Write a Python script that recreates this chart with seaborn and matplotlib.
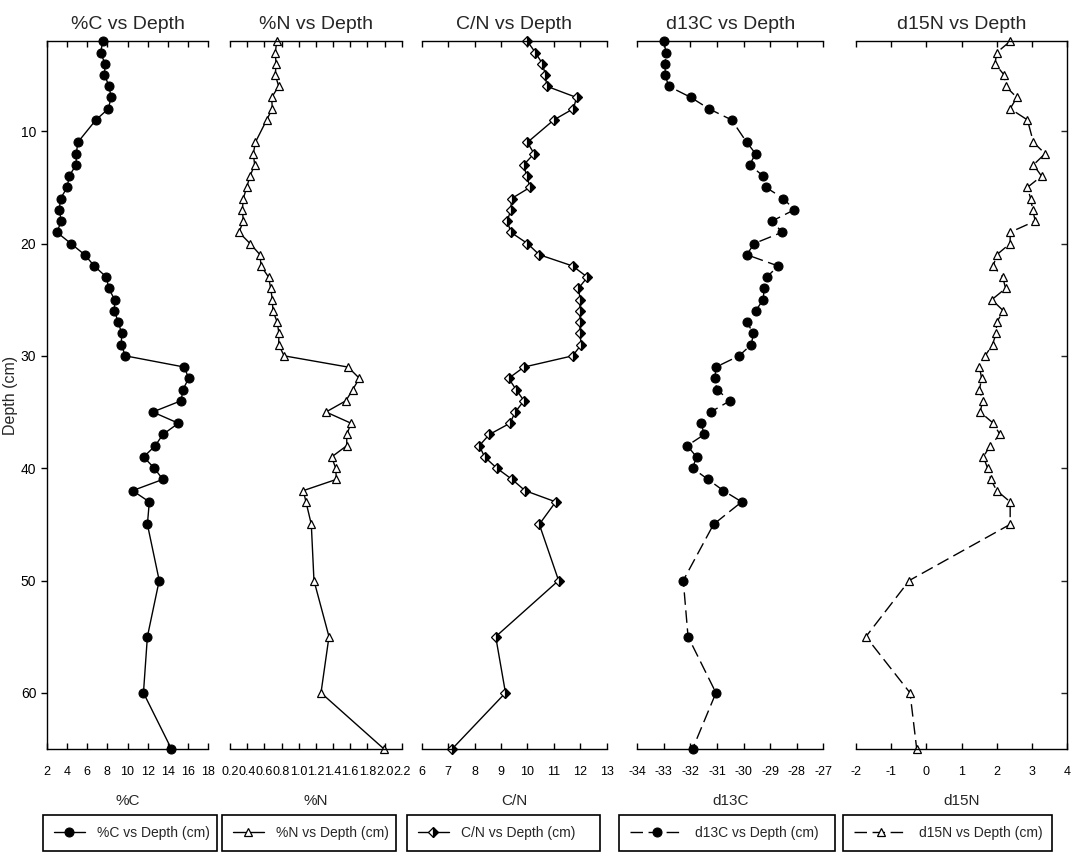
import matplotlib
matplotlib.use("Agg")
import matplotlib.pyplot as plt
import seaborn as sns
import pandas as pd
from matplotlib.ticker import FormatStrFormatter

# ---------------- data ----------------
depth = [2, 3, 4, 5, 6, 7, 8, 9,
         11, 12, 13, 14, 15, 16, 17, 18, 19, 20,
         21, 22, 23, 24, 25, 26, 27, 28, 29, 30,
         31, 32, 33, 34, 35, 36, 37, 38, 39, 40,
         41, 42, 43, 45, 50, 55, 60, 65]

pct_c = [7.56, 7.33, 7.78, 7.72, 8.18, 8.37, 8.11, 6.87,
         5.07, 4.94, 4.91, 4.22, 4.03, 3.37, 3.24, 3.44, 3.01, 4.39,
         5.76, 6.71, 7.92, 8.14, 8.73, 8.70, 9.09, 9.42, 9.39, 9.78,
         15.63, 16.05, 15.50, 15.30, 12.50, 15.04, 13.50, 12.75, 11.60, 12.65,
         13.50, 10.50, 12.16, 11.97, 13.14, 11.97, 11.58, 14.35]

pct_n = [0.744, 0.728, 0.736, 0.728, 0.767, 0.685, 0.693, 0.627,
         0.495, 0.472, 0.487, 0.433, 0.394, 0.355, 0.344, 0.355, 0.305, 0.433,
         0.550, 0.561, 0.650, 0.674, 0.693, 0.700, 0.750, 0.770, 0.767, 0.830,
         1.575, 1.707, 1.630, 1.550, 1.318, 1.610, 1.560, 1.560, 1.384, 1.431,
         1.439, 1.054, 1.085, 1.147, 1.178, 1.353, 1.260, 1.994]

c_n = [10.00, 10.30, 10.57, 10.68, 10.73, 11.86, 11.74, 11.00,
       10.00, 10.25, 9.86, 9.97, 10.10, 9.40, 9.37, 9.24, 9.37, 10.00,
       10.45, 11.71, 12.27, 11.93, 12.00, 11.98, 12.00, 11.98, 12.04, 11.71,
       9.87, 9.29, 9.57, 9.87, 9.54, 9.34, 8.56, 8.18, 8.38, 8.84,
       9.42, 9.91, 11.07, 10.45, 11.18, 8.80, 9.17, 7.15]

d13c = [-33.00, -32.92, -32.95, -32.95, -32.82, -31.98, -31.31, -30.45,
        -29.88, -29.55, -29.77, -29.26, -29.16, -28.50, -28.09, -28.93, -28.55, -29.60,
        -29.88, -28.70, -29.13, -29.23, -29.26, -29.55, -29.88, -29.63, -29.71, -30.17,
        -31.04, -31.08, -31.01, -30.51, -31.24, -31.60, -31.48, -32.12, -31.77, -31.92,
        -31.34, -30.76, -30.07, -31.13, -32.27, -32.09, -31.04, -31.92]

d15n = [2.38, 2.00, 1.95, 2.21, 2.25, 2.57, 2.38, 2.87,
        3.04, 3.37, 3.04, 3.27, 2.87, 2.96, 3.02, 3.09, 2.38, 2.38,
        2.00, 1.90, 2.17, 2.25, 1.86, 2.19, 2.00, 1.98, 1.88, 1.67,
        1.51, 1.57, 1.51, 1.60, 1.53, 1.90, 2.09, 1.81, 1.62, 1.74,
        1.83, 2.00, 2.38, 2.38, -0.48, -1.71, -0.46, -0.27]

names = ["%C", "%N", "C/N", "d13C", "d15N"]
series = [pct_c, pct_n, c_n, d13c, d15n]
xlims = [(2, 18), (0.2, 2.2), (6, 13), (-34, -27), (-2, 4)]
xstep = [2, 0.2, 1, 1, 1]
y_ticks = [10, 20, 30, 40, 50, 60]

# ---------------- style ----------------
sns.set_style("ticks")
plt.rcParams["font.family"] = ["Liberation Sans", "DejaVu Sans"]
plt.rcParams["axes.unicode_minus"] = False

fig = plt.figure(figsize=(10.84, 8.56), dpi=100)
W, H = 1084.0, 856.0
top_px, bot_px = 41.3, 749.0
panel_px = [(46.7, 208.3), (230.0, 401.7), (421.7, 606.7), (637.3, 823.3), (855.7, 1067.3)]
legend_px = [(43, 217), (222, 396), (407, 600), (619, 835), (843, 1052)]

marker_kw = [
    dict(marker="o", markersize=6.5, markerfacecolor="black", markeredgecolor="black"),
    dict(marker="^", markersize=6, markerfacecolor="white", markeredgecolor="black", markeredgewidth=0.9),
    dict(marker="D", markersize=5.5, markerfacecolor="black", markerfacecoloralt="white",
         fillstyle="right", markeredgecolor="black", markeredgewidth=0.9),
    dict(marker="o", markersize=6.5, markerfacecolor="black", markeredgecolor="black"),
    dict(marker="^", markersize=6, markerfacecolor="white", markeredgecolor="black", markeredgewidth=0.9),
]
dashed = [False, False, False, True, True]

for i, (name, vals) in enumerate(zip(names, series)):
    x0, x1 = panel_px[i]
    ax = fig.add_axes([x0 / W, 1 - bot_px / H, (x1 - x0) / W, (bot_px - top_px) / H])
    df = pd.DataFrame({"value": vals, "depth": depth})
    sns.lineplot(data=df, x="value", y="depth", orient="y", sort=False, estimator=None,
                 ax=ax, color="black", linewidth=1.0, clip_on=False,
                 label=f"{name} vs Depth (cm)", legend=False, **marker_kw[i])
    line = ax.lines[-1]
    if dashed[i]:
        line.set_dashes((9, 4))
    ax.set_xlim(*xlims[i])
    lo, hi = xlims[i]
    n = int(round((hi - lo) / xstep[i]))
    ax.set_xticks([lo + k * xstep[i] for k in range(n + 1)])
    if name == "%N":
        ax.xaxis.set_major_formatter(FormatStrFormatter("%.1f"))
    ax.set_ylim(65, 2)
    ax.set_yticks(y_ticks)

    ax.tick_params(axis="x", which="both", top=True, bottom=True, direction="in",
                   length=4, width=1, labelsize=9, pad=12, colors="black")
    for s in ax.spines.values():
        s.set_linewidth(1.0)
        s.set_color("black")
    ax.spines["left"].set_visible(i == 0)
    ax.spines["right"].set_visible(i == 4)
    if i == 0:
        ax.tick_params(axis="y", left=True, right=False, labelleft=True, direction="out",
                       length=4, width=1, labelsize=10, colors="black")
        ax.set_ylabel("Depth (cm)", fontsize=11.5, labelpad=2)
    elif i == 4:
        ax.tick_params(axis="y", left=False, right=True, labelleft=False, labelright=False,
                       direction="in", length=4, width=1)
        ax.set_ylabel("")
    else:
        ax.tick_params(axis="y", left=False, right=False, labelleft=False)
        ax.set_ylabel("")

    ax.set_title(f"{name} vs Depth", fontsize=14, pad=9)
    ax.set_xlabel(name, fontsize=11, labelpad=12)
    ax.grid(False)

    # legend box under each panel
    lx0, lx1 = legend_px[i]
    ax_w = x1 - x0
    ax_h = bot_px - top_px
    bx = (lx0 - x0) / ax_w
    bw = (lx1 - lx0) / ax_w
    btop = (bot_px - 815) / ax_h
    leg = ax.legend(loc="upper left", bbox_to_anchor=(bx, btop - 0.05, bw, 0.05),
                    mode="expand", fontsize=10, frameon=True, fancybox=False,
                    framealpha=1, edgecolor="black", borderpad=0.8,
                    handlelength=3.8 if dashed[i] else 2.2, handletextpad=0.9,
                    borderaxespad=0)
    leg.get_frame().set_linewidth(1.2)

fig.savefig("out.png", dpi=100)
